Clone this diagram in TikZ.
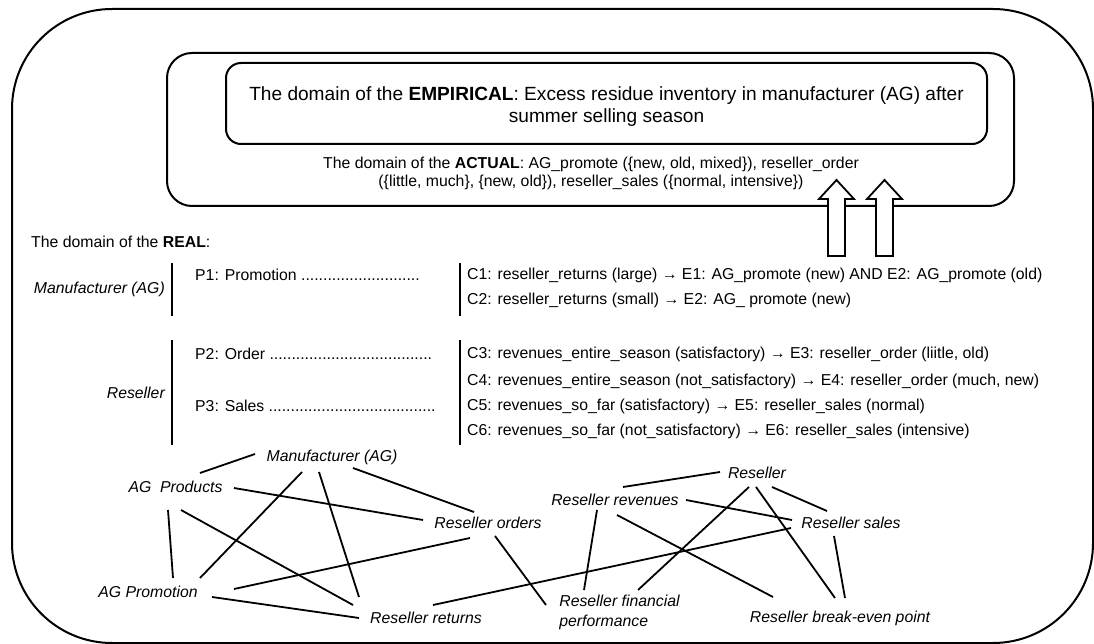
\documentclass[tikz,border=0pt]{standalone}
\usepackage{fontspec}
\setmainfont{Liberation Sans}
\usetikzlibrary{calc}
\tikzset{
  frame/.style={draw, line width=2pt},
  txt/.style={inner sep=0pt, font=\fontsize{15.8}{18}\selectfont},
  gtxt/.style={inner sep=0pt, font=\fontsize{15.8}{20}\selectfont\itshape},
  bar/.style={line width=2.5pt},
  link/.style={line width=1.8pt},
  blockarrow/.style={draw, fill=white, line width=1.8pt, line join=miter},
}
\begin{document}
\begin{tikzpicture}[x=1pt,y=-1pt]
\useasboundingbox (0,0) rectangle (1094,644);
% outer frame
\draw[frame, rounded corners=100pt] (12,9) rectangle (1093,643);
% ACTUAL box
\draw[frame, rounded corners=25pt] (167,53) rectangle (1014,206);
% EMPIRICAL box
\draw[frame, rounded corners=15pt] (226,63) rectangle (987,144);
\node[inner sep=0pt, align=center, font=\fontsize{19.1}{21.5}\selectfont] (emp) at (606.5,106.5)
  {The domain of the \textbf{EMPIRICAL}: Excess residue inventory in manufacturer (AG) after\\summer selling season};
\node[txt, align=center] (act) at (591,173)
  {The domain of the \textbf{ACTUAL}: AG\_promote (\{new, old, mixed\}), reseller\_order\\(\{little, much\}, \{new, old\}), reseller\_sales (\{normal, intensive\})};
% block arrows
\draw[blockarrow] (828,256) -- (828,199) -- (819,199) -- (836.5,180) -- (854,199) -- (845,199) -- (845,256) -- cycle;
\draw[blockarrow] (876,256) -- (876,199) -- (867,199) -- (884.5,180) -- (902,199) -- (893,199) -- (893,256) -- cycle;
% REAL
\node[txt, anchor=west] (real) at (31,242) {The domain of the \textbf{REAL}:};
\node[txt, anchor=east, font=\fontsize{15.8}{18}\selectfont\itshape] (manu) at (165,289) {Manufacturer (AG)};
\node[txt, anchor=east, font=\fontsize{15.8}{18}\selectfont\itshape] (resl) at (165,393) {Reseller};
\draw[bar] (172,263) -- (172,316);
\draw[bar] (172,340) -- (172,445);
\draw[bar] (460,263) -- (460,316);
\draw[bar] (460,340) -- (460,445);
\node[txt, anchor=west] (p1) at (195,275) {P1: Promotion ...........................};
\node[txt, anchor=west] (p2) at (195,354) {P2: Order .....................................};
\node[txt, anchor=west] (p3) at (195,406) {P3: Sales ......................................};
\node[txt, anchor=west] (c1) at (467,275) {C1: reseller\_returns (large) → E1: AG\_promote (new) AND E2: AG\_promote (old)};
\node[txt, anchor=west] (c2) at (467,300) {C2: reseller\_returns (small) → E2: AG\_ promote (new)};
\node[txt, anchor=west] (c3) at (467,354) {C3: revenues\_entire\_season (satisfactory) → E3: reseller\_order (liitle, old)};
\node[txt, anchor=west] (c4) at (467,381) {C4: revenues\_entire\_season (not\_satisfactory) → E4: reseller\_order (much, new)};
\node[txt, anchor=west] (c5) at (467,406) {C5: revenues\_so\_far (satisfactory) → E5: reseller\_sales (normal)};
\node[txt, anchor=west] (c6) at (467,431) {C6: revenues\_so\_far (not\_satisfactory) → E6: reseller\_sales (intensive)};
% graph nodes
\node[gtxt] (mag) at (332,457) {Manufacturer (AG)};
\node[gtxt] (agp) at (175.5,487) {AG\ \ Products};
\node[gtxt] (ro) at (488,523) {Reseller orders};
\node[gtxt] (agpr) at (148,592) {AG Promotion};
\node[gtxt] (rr) at (426,618) {Reseller returns};
\node[gtxt] (res) at (757,473) {Reseller};
\node[gtxt] (rrev) at (615,500) {Reseller revenues};
\node[gtxt] (rs) at (851,523) {Reseller sales};
\node[gtxt, align=left] (rfp) at (619.5,612) {Reseller financial\\performance};
\node[gtxt] (rbe) at (840,618) {Reseller break-even point};
% links
\draw[link] ($(mag)+(-77,-3)$) -- ($(agp)+(24.5,-14)$);
\draw[link] ($(agp)+(58.5,1)$) -- ($(ro)+(-65,-3)$);
\draw[link] ($(mag)+(21,11)$) -- ($(ro)+(-14,-11)$);
\draw[link] ($(mag)+(-30,15)$) -- ($(agpr)+(52,-14)$);
\draw[link] ($(mag)+(-13,15)$) -- ($(rr)+(-67,-21)$);
\draw[link] ($(agp)+(-7.5,23)$) -- ($(agpr)+(25,-14)$);
\draw[link] ($(agp)+(5.5,23)$) -- ($(rr)+(-73,-13)$);
\draw[link] ($(agpr)+(86,-3)$) -- ($(ro)+(-18,15)$);
\draw[link] ($(agpr)+(64,5)$) -- ($(rr)+(-67,0)$);
\draw[link] ($(ro)+(7,13)$) -- ($(rfp)+(-73.5,-7)$);
\draw[link] ($(rr)+(7,-13)$) -- ($(rs)+(-60,5)$);
\draw[link] ($(rrev)+(8,-13)$) -- ($(res)+(-37,-1)$);
\draw[link] ($(rrev)+(71,0)$) -- ($(rs)+(-59,-3)$);
\draw[link] ($(res)+(15,14)$) -- ($(rs)+(-24,-12)$);
\draw[link] ($(res)+(-8,14)$) -- ($(rfp)+(18.5,-22)$);
\draw[link] ($(res)+(-1,14)$) -- ($(rbe)+(-5,-20)$);
\draw[link] ($(rrev)+(-18,10)$) -- ($(rfp)+(-35.5,-22)$);
\draw[link] ($(rrev)+(2,15)$) -- ($(rbe)+(-67,-21)$);
\draw[link] ($(rs)+(-17,13)$) -- ($(rbe)+(5,-20)$);
\end{tikzpicture}
\end{document}
